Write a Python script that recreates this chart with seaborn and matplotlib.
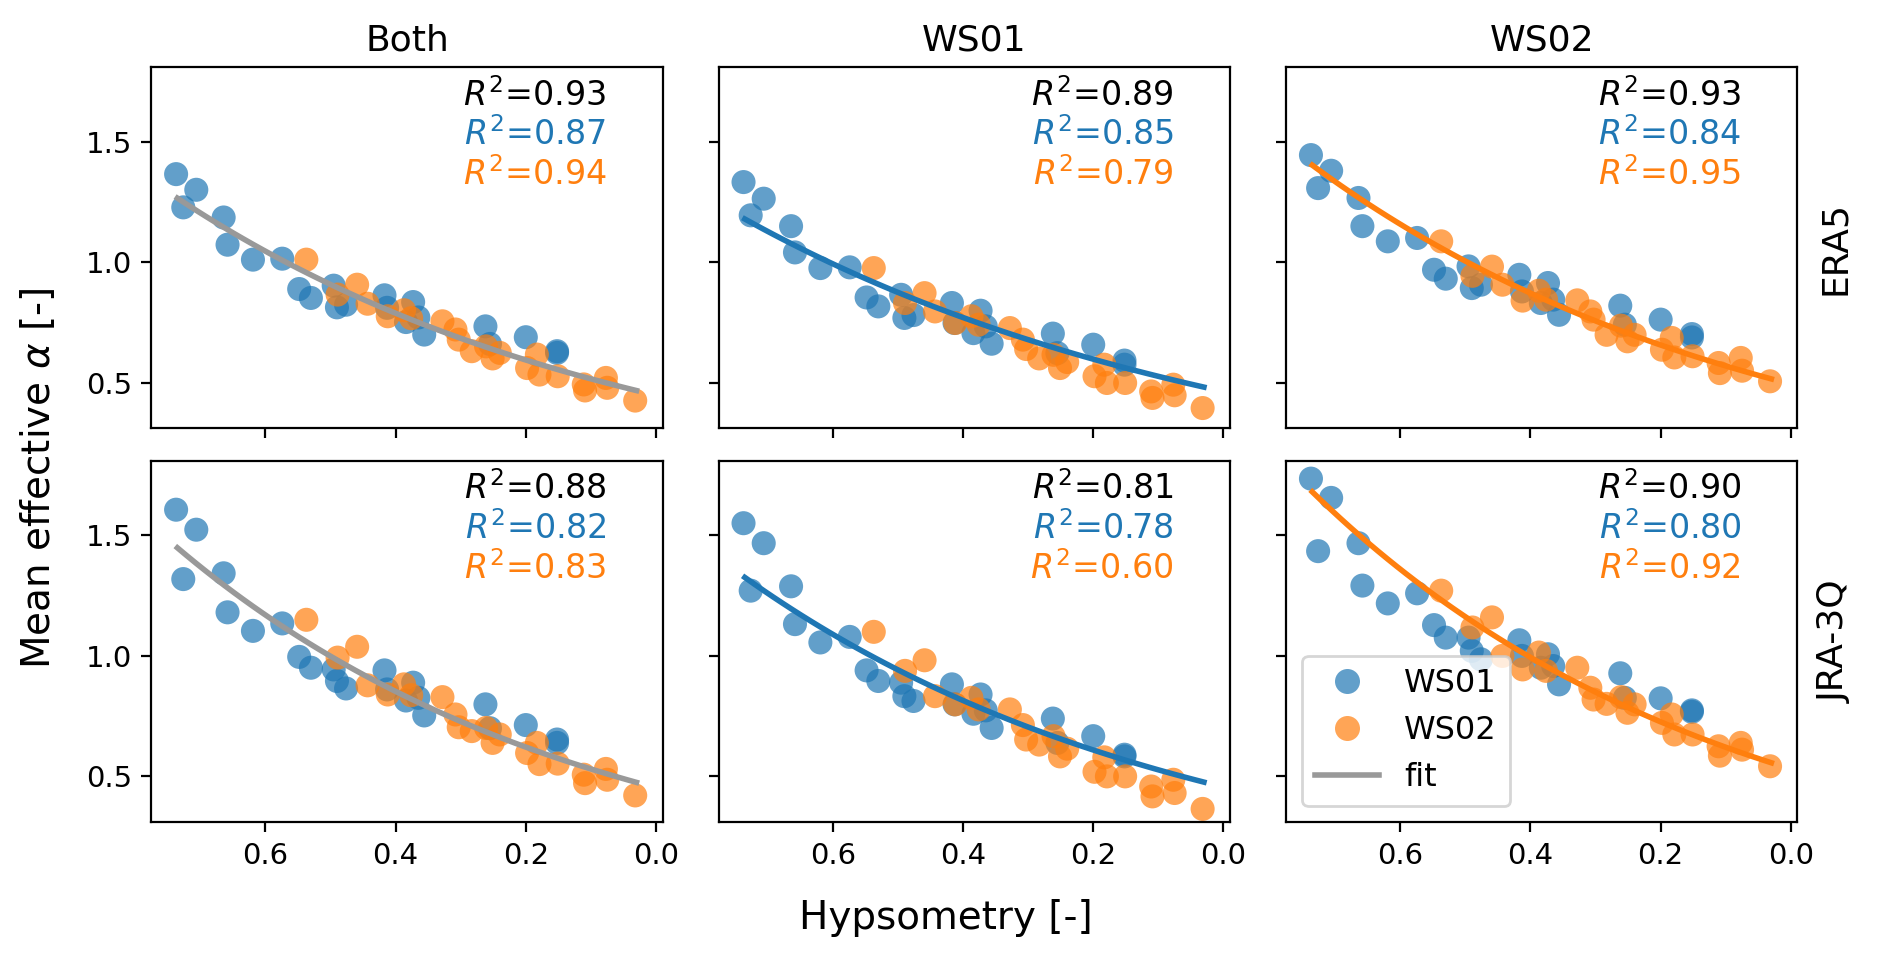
import numpy as np
import pandas as pd
import matplotlib
matplotlib.use("Agg")
import matplotlib.pyplot as plt
import seaborn as sns
from matplotlib.lines import Line2D

# hypsometry of each glacier point (same in every panel)
hyps_ws01 = [0.737, 0.706, 0.726, 0.664, 0.658, 0.619, 0.574, 0.548, 0.530, 0.495, 0.490, 0.476,
             0.417, 0.413, 0.373, 0.384, 0.365, 0.356, 0.262, 0.255, 0.200, 0.152, 0.152]
hyps_ws02 = [0.537, 0.459, 0.489, 0.443, 0.412, 0.387, 0.376, 0.328, 0.308, 0.303, 0.283, 0.261,
             0.240, 0.251, 0.198, 0.183, 0.179, 0.151, 0.111, 0.109, 0.077, 0.075, 0.032]

# mean effective alpha, per reanalysis (row) and calibration (column)
era5_both_ws01 = [1.365, 1.30, 1.227, 1.185, 1.072, 1.01, 1.014, 0.888, 0.851, 0.902, 0.812, 0.823,
                  0.862, 0.81, 0.834, 0.751, 0.77, 0.699, 0.733, 0.66, 0.688, 0.63, 0.623]
era5_both_ws02 = [1.01, 0.906, 0.865, 0.827, 0.775, 0.80, 0.767, 0.754, 0.72, 0.678, 0.63, 0.65,
                  0.623, 0.60, 0.56, 0.616, 0.533, 0.526, 0.492, 0.467, 0.519, 0.478, 0.425]
era5_ws01_ws01 = [1.332, 1.263, 1.194, 1.149, 1.04, 0.975, 0.978, 0.853, 0.816, 0.864, 0.768, 0.78,
                  0.83, 0.747, 0.798, 0.705, 0.733, 0.661, 0.703, 0.622, 0.657, 0.591, 0.574]
era5_ws01_ws02 = [0.975, 0.871, 0.83, 0.795, 0.747, 0.775, 0.74, 0.726, 0.678, 0.639, 0.60, 0.615,
                  0.585, 0.56, 0.526, 0.574, 0.498, 0.498, 0.463, 0.436, 0.491, 0.447, 0.394]
era5_ws02_ws01 = [1.444, 1.379, 1.307, 1.266, 1.149, 1.086, 1.10, 0.968, 0.931, 0.982, 0.892, 0.906,
                  0.947, 0.878, 0.913, 0.83, 0.844, 0.781, 0.819, 0.74, 0.761, 0.701, 0.687]
era5_ws02_ws02 = [1.086, 0.981, 0.943, 0.906, 0.84, 0.881, 0.844, 0.841, 0.795, 0.761, 0.698, 0.736,
                  0.698, 0.671, 0.636, 0.685, 0.604, 0.609, 0.581, 0.539, 0.602, 0.549, 0.505]
jra_both_ws01 = [1.607, 1.524, 1.319, 1.343, 1.181, 1.104, 1.135, 0.996, 0.951, 0.944, 0.896, 0.865,
                 0.94, 0.861, 0.889, 0.815, 0.826, 0.753, 0.799, 0.70, 0.713, 0.653, 0.639]
jra_both_ws02 = [1.15, 1.038, 0.993, 0.878, 0.84, 0.882, 0.837, 0.829, 0.757, 0.704, 0.688, 0.701,
                 0.674, 0.639, 0.597, 0.639, 0.551, 0.553, 0.507, 0.472, 0.531, 0.486, 0.421]
jra_ws01_ws01 = [1.551, 1.468, 1.271, 1.289, 1.132, 1.056, 1.079, 0.94, 0.896, 0.889, 0.833, 0.813,
                 0.882, 0.799, 0.84, 0.76, 0.774, 0.701, 0.74, 0.639, 0.667, 0.59, 0.583]
jra_ws01_ws02 = [1.10, 0.982, 0.938, 0.833, 0.799, 0.826, 0.778, 0.778, 0.713, 0.653, 0.632, 0.667,
                 0.615, 0.583, 0.519, 0.579, 0.50, 0.50, 0.458, 0.417, 0.486, 0.431, 0.365]
jra_ws02_ws01 = [1.736, 1.656, 1.435, 1.468, 1.292, 1.218, 1.26, 1.128, 1.076, 1.076, 1.021, 0.986,
                 1.065, 1.0, 1.007, 0.951, 0.958, 0.882, 0.928, 0.826, 0.824, 0.774, 0.768]
jra_ws02_ws02 = [1.271, 1.16, 1.118, 1.0, 0.944, 1.014, 0.938, 0.951, 0.868, 0.819, 0.801, 0.829,
                 0.799, 0.764, 0.722, 0.757, 0.674, 0.674, 0.625, 0.586, 0.639, 0.611, 0.542]

columns = ["Both", "WS01", "WS02"]
rows = ["ERA5", "JRA-3Q"]
r2_all = [["0.93", "0.89", "0.93"], ["0.88", "0.81", "0.90"]]
r2_ws01 = [["0.87", "0.85", "0.84"], ["0.82", "0.78", "0.80"]]
r2_ws02 = [["0.94", "0.79", "0.95"], ["0.83", "0.60", "0.92"]]

alpha_data = [[(era5_both_ws01, era5_both_ws02), (era5_ws01_ws01, era5_ws01_ws02), (era5_ws02_ws01, era5_ws02_ws02)],
              [(jra_both_ws01, jra_both_ws02), (jra_ws01_ws01, jra_ws01_ws02), (jra_ws02_ws01, jra_ws02_ws02)]]

blue, orange, grey = "#1f77b4", "#ff7f0e", "#999999"

fig, axes = plt.subplots(2, 3, figsize=(9.46, 4.78), dpi=200, sharex=True, sharey=True)
fig.subplots_adjust(left=0.08, right=0.95, top=0.93, bottom=0.14, wspace=0.11, hspace=0.09)

for i, row in enumerate(rows):
    for j, col in enumerate(columns):
        ax = axes[i, j]
        a1, a2 = alpha_data[i][j]
        df = pd.DataFrame({"hyps": hyps_ws01 + hyps_ws02,
                           "alpha": a1 + a2,
                           "site": ["WS01"] * len(a1) + ["WS02"] * len(a2)})
        sns.scatterplot(data=df, x="hyps", y="alpha", hue="site", palette=[blue, orange],
                        s=75, alpha=0.7, linewidth=0, ax=ax, legend=False)
        # exponential fit: both sites, or only the calibration site
        if col == "Both":
            fd, fc = df, grey
        elif col == "WS01":
            fd, fc = df[df.site == "WS01"], blue
        else:
            fd, fc = df[df.site == "WS02"], orange
        b, loga = np.polyfit(fd.hyps, np.log(fd.alpha), 1)
        xx = np.linspace(0.735, 0.03, 50)
        sns.lineplot(x=xx, y=np.exp(loga + b * xx), color=fc, lw=2, ax=ax)

        ax.text(0.89, 0.97, r"$R^2$=" + r2_all[i][j], transform=ax.transAxes, ha="right", va="top", fontsize=12, color="black")
        ax.text(0.89, 0.86, r"$R^2$=" + r2_ws01[i][j], transform=ax.transAxes, ha="right", va="top", fontsize=12, color=blue)
        ax.text(0.89, 0.75, r"$R^2$=" + r2_ws02[i][j], transform=ax.transAxes, ha="right", va="top", fontsize=12, color=orange)

        ax.set_xlabel("")
        ax.set_ylabel("")
        ax.tick_params(labelsize=10.5)
        if i == 0:
            ax.set_title(col, fontsize=13)
        if j == 2:
            ax.text(1.04, 0.5, row, transform=ax.transAxes, rotation=90, ha="left", va="center", fontsize=13)

axes[0, 0].set_xlim(0.775, -0.01)
axes[0, 0].set_ylim(0.31, 1.81)
axes[0, 0].set_xticks([0.6, 0.4, 0.2, 0.0])
axes[0, 0].set_yticks([0.5, 1.0, 1.5])

handles = [Line2D([], [], marker="o", ls="", color=blue, alpha=0.7, markersize=9, markeredgewidth=0),
           Line2D([], [], marker="o", ls="", color=orange, alpha=0.7, markersize=9, markeredgewidth=0),
           Line2D([], [], color=grey, lw=2)]
axes[1, 2].legend(handles, ["WS01", "WS02", "fit"], loc="lower left", fontsize=11.5)

fig.supxlabel("Hypsometry [-]", fontsize=14, y=0.02)
fig.supylabel(r"Mean effective $\alpha$ [-]", fontsize=14, x=0.01)

plt.savefig("out.png", dpi=200)
